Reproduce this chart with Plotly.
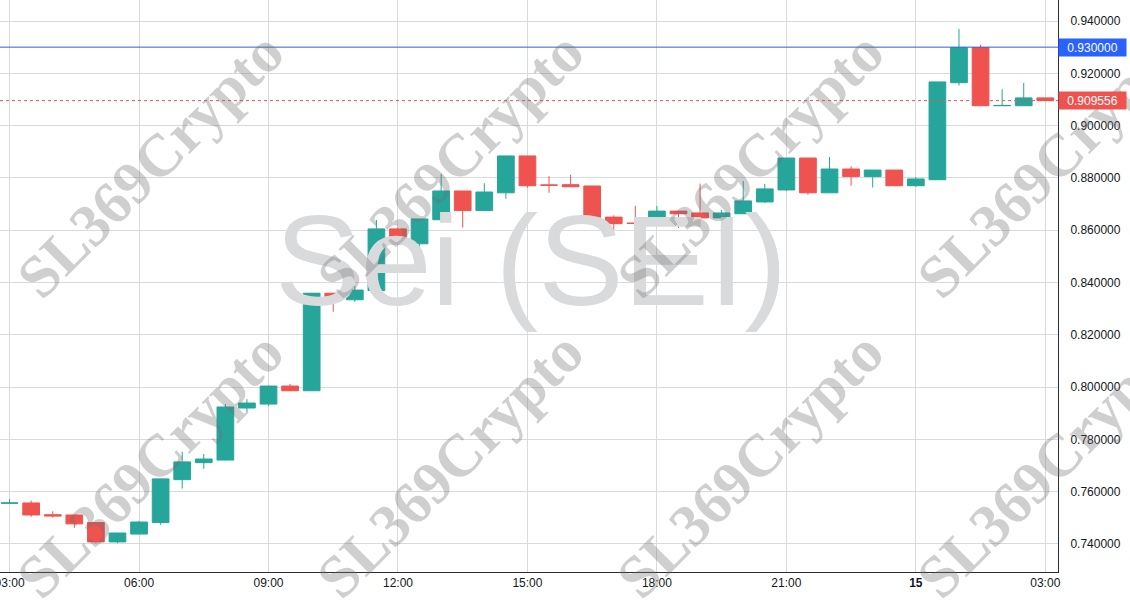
import pandas as pd
import plotly.graph_objects as go

# ---- data (30-minute candles, SEI) ----
times = pd.date_range("2024-03-14 03:00", periods=49, freq="30min")

open_ = [0.7556, 0.7557, 0.7512, 0.7511, 0.7482, 0.7408, 0.7438, 0.7482, 0.7646, 0.7711,
         0.7721, 0.7920, 0.7935, 0.8004, 0.7986, 0.8359, 0.8334, 0.8369, 0.8605, 0.8548,
         0.8640, 0.8750, 0.8675, 0.8743, 0.8884, 0.8773, 0.8774, 0.8769, 0.8650, 0.8627,
         0.8625, 0.8673, 0.8666, 0.8647, 0.8663, 0.8708, 0.8754, 0.8876, 0.8743, 0.8834,
         0.8805, 0.8830, 0.8770, 0.8793, 0.9164, 0.9298, 0.9076, 0.9076, 0.9106]
high = [0.7572, 0.7566, 0.7525, 0.7512, 0.7483, 0.7443, 0.7488, 0.7650, 0.7753, 0.7744,
        0.7935, 0.7954, 0.8005, 0.8012, 0.8360, 0.8360, 0.8387, 0.8639, 0.8612, 0.8643,
        0.8815, 0.8750, 0.8780, 0.8884, 0.8884, 0.8807, 0.8812, 0.8769, 0.8657, 0.8693,
        0.8693, 0.8673, 0.8778, 0.8677, 0.8788, 0.8777, 0.8876, 0.8876, 0.8880, 0.8845,
        0.8830, 0.8830, 0.8803, 0.9167, 0.9369, 0.9309, 0.9139, 0.9163, 0.9106]
low = [0.7553, 0.7504, 0.7501, 0.7462, 0.7403, 0.7403, 0.7437, 0.7473, 0.7612, 0.7688,
       0.7720, 0.7905, 0.7928, 0.7985, 0.7985, 0.8288, 0.8326, 0.8352, 0.8548, 0.8537,
       0.8640, 0.8610, 0.8675, 0.8720, 0.8763, 0.8743, 0.8766, 0.8630, 0.8602, 0.8610,
       0.8625, 0.8608, 0.8647, 0.8647, 0.8663, 0.8704, 0.8750, 0.8736, 0.8743, 0.8770,
       0.8763, 0.8770, 0.8766, 0.8793, 0.9153, 0.9076, 0.9076, 0.9076, 0.9095]
close = [0.7557, 0.7511, 0.7507, 0.7477, 0.7408, 0.7442, 0.7484, 0.7649, 0.7714, 0.7725,
         0.7924, 0.7939, 0.8004, 0.7986, 0.8359, 0.8334, 0.8371, 0.8605, 0.8548, 0.8643,
         0.8750, 0.8675, 0.8746, 0.8884, 0.8770, 0.8772, 0.8766, 0.8648, 0.8625, 0.8626,
         0.8673, 0.8663, 0.8647, 0.8666, 0.8712, 0.8758, 0.8876, 0.8743, 0.8834, 0.8805,
         0.8830, 0.8770, 0.8796, 0.9167, 0.9298, 0.9076, 0.9077, 0.9106, 0.909556]

tick_times = ["2024-03-14 03:00", "2024-03-14 06:00", "2024-03-14 09:00", "2024-03-14 12:00",
              "2024-03-14 15:00", "2024-03-14 18:00", "2024-03-14 21:00", "2024-03-15 00:00",
              "2024-03-15 03:00"]
tick_labels = ["03:00", "06:00", "09:00", "12:00", "15:00", "18:00", "21:00", "<b>15</b>", "03:00"]
y_ticks = [0.74, 0.76, 0.78, 0.80, 0.82, 0.84, 0.86, 0.88, 0.90, 0.92, 0.94]

level_price = 0.93
last_price = close[-1]
title_text = "Sei (SEI)"
watermark = "SL369Crypto"

x_range = [pd.Timestamp("2024-03-14 02:46:40"), pd.Timestamp("2024-03-15 03:17:40")]
y_range = [0.72929, 0.94803]

UP = "#26a69a"
DOWN = "#ef5350"
GRID = "#d8dbde"
AXIS = "#2a2e39"
TXT = "#131722"

fig = go.Figure()

# big background title (below candles)
title_x = x_range[0] + (x_range[1] - x_range[0]) * 0.502
title_y = y_range[0] + (y_range[1] - y_range[0]) * 0.523
fig.add_trace(go.Scatter(
    x=[title_x], y=[title_y], mode="text", text=[title_text],
    textfont=dict(family="Liberation Sans, Arial, sans-serif", size=128, color="#d9dadc"),
    textposition="middle center", hoverinfo="skip", showlegend=False))

fig.add_trace(go.Candlestick(
    x=times, open=open_, high=high, low=low, close=close,
    increasing=dict(line=dict(color=UP, width=1), fillcolor=UP),
    decreasing=dict(line=dict(color=DOWN, width=1), fillcolor=DOWN),
    whiskerwidth=0, showlegend=False, hoverinfo="skip"))

shapes = [
    dict(type="line", xref="paper", x0=0, x1=1, yref="y", y0=level_price, y1=level_price,
         line=dict(color="#2f5fd8", width=1), layer="above"),
    dict(type="line", xref="paper", x0=0, x1=1, yref="y", y0=last_price, y1=last_price,
         line=dict(color=DOWN, width=1, dash="dot"), layer="above"),
]

annotations = []
# watermarks
for cy in [0.712, 0.187]:
    for cx in [150, 450, 750, 1050]:
        annotations.append(dict(
            text=watermark, xref="paper", yref="paper",
            x=cx / 1058, y=cy, xanchor="center", yanchor="middle",
            showarrow=False, textangle=-45,
            font=dict(family="Liberation Serif, Times New Roman, serif", size=60,
                      color="rgba(110,110,110,0.33)", weight="bold")))

# price labels on the axis
for val, col in [(level_price, "#2962ff"), (last_price, DOWN)]:
    annotations.append(dict(
        text=f"{val:.6f}", xref="paper", yref="y", x=1, y=val,
        xanchor="left", yanchor="middle", showarrow=False,
        bgcolor=col, font=dict(family="Liberation Sans, Arial, sans-serif", size=12, color="white"),
        width=61, height=11, borderpad=3, align="center"))

fig.update_layout(
    width=1130, height=600,
    margin=dict(l=0, r=72, t=0, b=28, autoexpand=False),
    paper_bgcolor="white", plot_bgcolor="white",
    boxgap=0.12, boxgroupgap=0.12,
    shapes=shapes, annotations=annotations,
    showlegend=False, hovermode=False,
    font=dict(family="Liberation Sans, Arial, sans-serif", size=12, color=TXT),
    xaxis=dict(
        type="date", range=x_range, rangeslider=dict(visible=False), automargin=False,
        tickmode="array", tickvals=tick_times, ticktext=tick_labels,
        ticklabeloverflow="allow",
        showgrid=True, gridcolor=GRID, gridwidth=1,
        showline=True, linecolor=AXIS, linewidth=1, ticks="",
        tickfont=dict(size=12, color=TXT), zeroline=False),
    yaxis=dict(
        side="right", range=y_range, tickmode="array", tickvals=y_ticks, automargin=False,
        tickformat=".6f", showgrid=True, gridcolor=GRID, gridwidth=1,
        showline=True, linecolor=AXIS, linewidth=1, ticks="",
        ticklabelstandoff=9, tickfont=dict(size=12, color=TXT), zeroline=False),
)

fig.write_html("out.html", config={"displayModeBar": False},
               post_script="document.body.style.margin='0';")
